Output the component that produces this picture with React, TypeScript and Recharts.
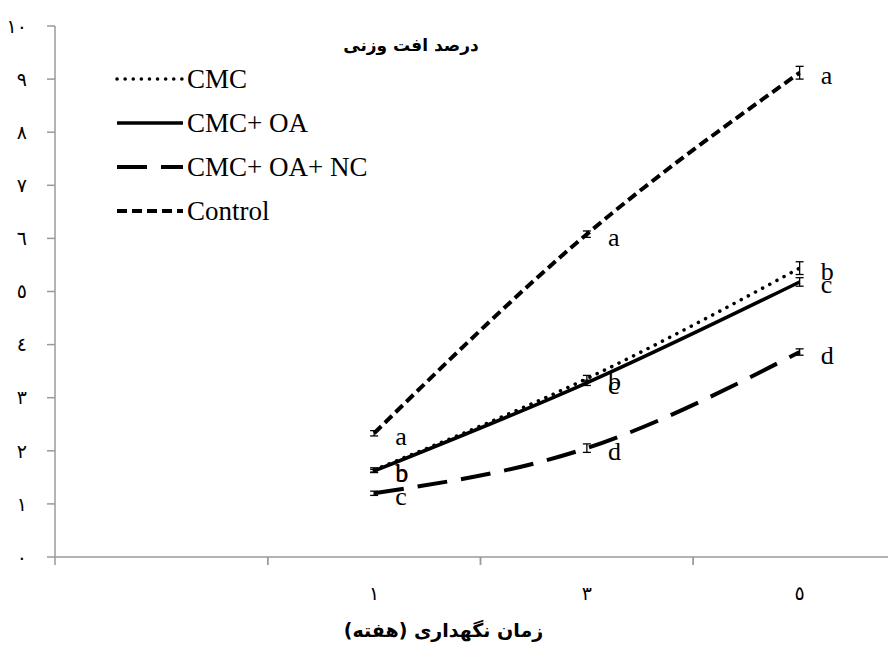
import React from "react";
import { ErrorBar, LabelList, Legend, Line, LineChart, XAxis, YAxis } from "recharts";

// درصد افت وزنی — weight loss (%) over storage weeks
const weeks = ["", "١", "٣", "٥"];
const yTicks = [0, 1, 2, 3, 4, 5, 6, 7, 8, 9, 10];
const yTickLabels = ["٠", "١", "٢", "٣", "٤", "٥", "٦", "٧", "٨", "٩", "١٠"];

const seriesNames = ["CMC", "CMC+ OA", "CMC+ OA+ NC", "Control"];

const cmc = [1.64, 3.36, 5.44];
const cmcErr = [0.04, 0.06, 0.12];
const cmcLetters = ["b", "b", "b"];

const cmcOa = [1.62, 3.28, 5.18];
const cmcOaErr = [0.03, 0.05, 0.08];
const cmcOaLetters = ["b", "c", "c"];

const cmcOaNc = [1.2, 2.05, 3.86];
const cmcOaNcErr = [0.04, 0.08, 0.06];
const cmcOaNcLetters = ["c", "d", "d"];

const control = [2.33, 6.08, 9.12];
const controlErr = [0.05, 0.06, 0.12];
const controlLetters = ["a", "a", "a"];

const title = "درصد افت وزنی";
const xTitle = "زمان نگهداری (هفته)";

const rows = weeks.map((week, i) =>
  i === 0
    ? { week }
    : {
        week,
        cmc: cmc[i - 1],
        cmcErr: cmcErr[i - 1],
        cmcL: cmcLetters[i - 1],
        cmcOa: cmcOa[i - 1],
        cmcOaErr: cmcOaErr[i - 1],
        cmcOaL: cmcOaLetters[i - 1],
        cmcOaNc: cmcOaNc[i - 1],
        cmcOaNcErr: cmcOaNcErr[i - 1],
        cmcOaNcL: cmcOaNcLetters[i - 1],
        control: control[i - 1],
        controlErr: controlErr[i - 1],
        controlL: controlLetters[i - 1],
      }
);

const series = [
  { key: "cmc", name: seriesNames[0], dash: "0.1 8", width: 3.5, cap: "round" },
  { key: "cmcOa", name: seriesNames[1], dash: undefined, width: 3.5, cap: "butt" },
  { key: "cmcOaNc", name: seriesNames[2], dash: "30 14", width: 4, cap: "butt" },
  { key: "control", name: seriesNames[3], dash: "10 5", width: 4, cap: "butt" },
];

const serif = '"Liberation Serif", "Times New Roman", serif';
const sans = '"DejaVu Sans", sans-serif';
const axisGray = "#9a9a9a";
const X_TICK_SIZE = 8;
const X_TICK_MARGIN = 20;

function LegendBox() {
  return (
    <div>
      {series.map((s) => (
        <div key={s.key} style={{ display: "flex", alignItems: "center", height: 44 }}>
          <svg width={70} height={10}>
            <line
              x1={2}
              y1={5}
              x2={68}
              y2={5}
              stroke="#000"
              strokeWidth={s.width}
              strokeDasharray={s.dash}
              strokeLinecap={s.cap as any}
            />
          </svg>
          <span style={{ fontFamily: serif, fontSize: 27, marginLeft: 2, lineHeight: 1 }}>{s.name}</span>
        </div>
      ))}
    </div>
  );
}

// category label at band centre, tick mark at band boundaries
function WeekTick(props: any) {
  const { x, y, payload } = props;
  const half = payload?.offset ?? 0;
  const axisY = y - X_TICK_SIZE - X_TICK_MARGIN;
  return (
    <g>
      <line x1={x - half} y1={axisY} x2={x - half} y2={axisY + X_TICK_SIZE} stroke={axisGray} strokeWidth={1.5} />
      <line x1={x + half} y1={axisY} x2={x + half} y2={axisY + X_TICK_SIZE} stroke={axisGray} strokeWidth={1.5} />
      <text x={x} y={y} dy={8} textAnchor="middle" dominantBaseline="central" fontFamily={sans} fontSize={19} fill="#000">
        {payload.value}
      </text>
    </g>
  );
}

function Letter(props: any) {
  const { x, y, value } = props;
  if (value == null || x == null || y == null) return null;
  return (
    <text x={x + 21} y={y + 3} dominantBaseline="central" fontFamily={serif} fontSize={26} fill="#000">
      {value}
    </text>
  );
}

export default function App() {
  return (
    <div style={{ position: "relative", width: 888, height: 642, overflow: "hidden" }}>
      <LineChart width={910} height={642} data={rows} margin={{ top: 18, right: 12, left: 0, bottom: 0 }}>
        <XAxis
          dataKey="week"
          scale="band"
          stroke={axisGray}
          strokeWidth={1.5}
          tickLine={false}
          tickSize={X_TICK_SIZE}
          tickMargin={X_TICK_MARGIN}
          height={93}
          interval={0}
          tick={<WeekTick />}
          label={(p: any) => {
            const vb = p.viewBox;
            return (
              <text
                x={vb.x + vb.width / 2 - 37}
                y={622}
                textAnchor="middle"
                dominantBaseline="central"
                fontFamily={sans}
                fontWeight="bold"
                fontSize={19}
                fill="#000"
              >
                {xTitle}
              </text>
            );
          }}
        />
        <YAxis
          domain={[0, 10]}
          ticks={yTicks}
          width={47}
          tickSize={8}
          tickMargin={20}
          stroke={axisGray}
          strokeWidth={1.5}
          tick={{ fontFamily: sans, fontSize: 19, fill: "#000" }}
          tickFormatter={(v: number) => yTickLabels[v]}
          interval={0}
        />
        <Legend
          layout="vertical"
          align="center"
          verticalAlign="middle"
          content={() => <LegendBox />}
          wrapperStyle={{ left: 107, top: 49, width: 300, height: 180 }}
        />
        {series.map((s) => (
          <Line
            key={s.key}
            dataKey={s.key}
            name={s.name}
            type="monotone"
            stroke="#000"
            strokeWidth={s.width}
            strokeDasharray={s.dash}
            strokeLinecap={s.cap as any}
            dot={false}
            activeDot={false}
            isAnimationActive={false}
          >
            <ErrorBar dataKey={s.key + "Err"} direction="y" width={4} stroke="#000" strokeWidth={1.3} />
            <LabelList dataKey={s.key + "L"} content={Letter} />
          </Line>
        ))}
      </LineChart>
      <div
        style={{
          position: "absolute",
          left: 253,
          top: 25,
          width: 300,
          textAlign: "center",
          fontFamily: sans,
          fontWeight: "bold",
          fontSize: 17,
          lineHeight: "24px",
        }}
      >
        {title}
      </div>
    </div>
  );
}
